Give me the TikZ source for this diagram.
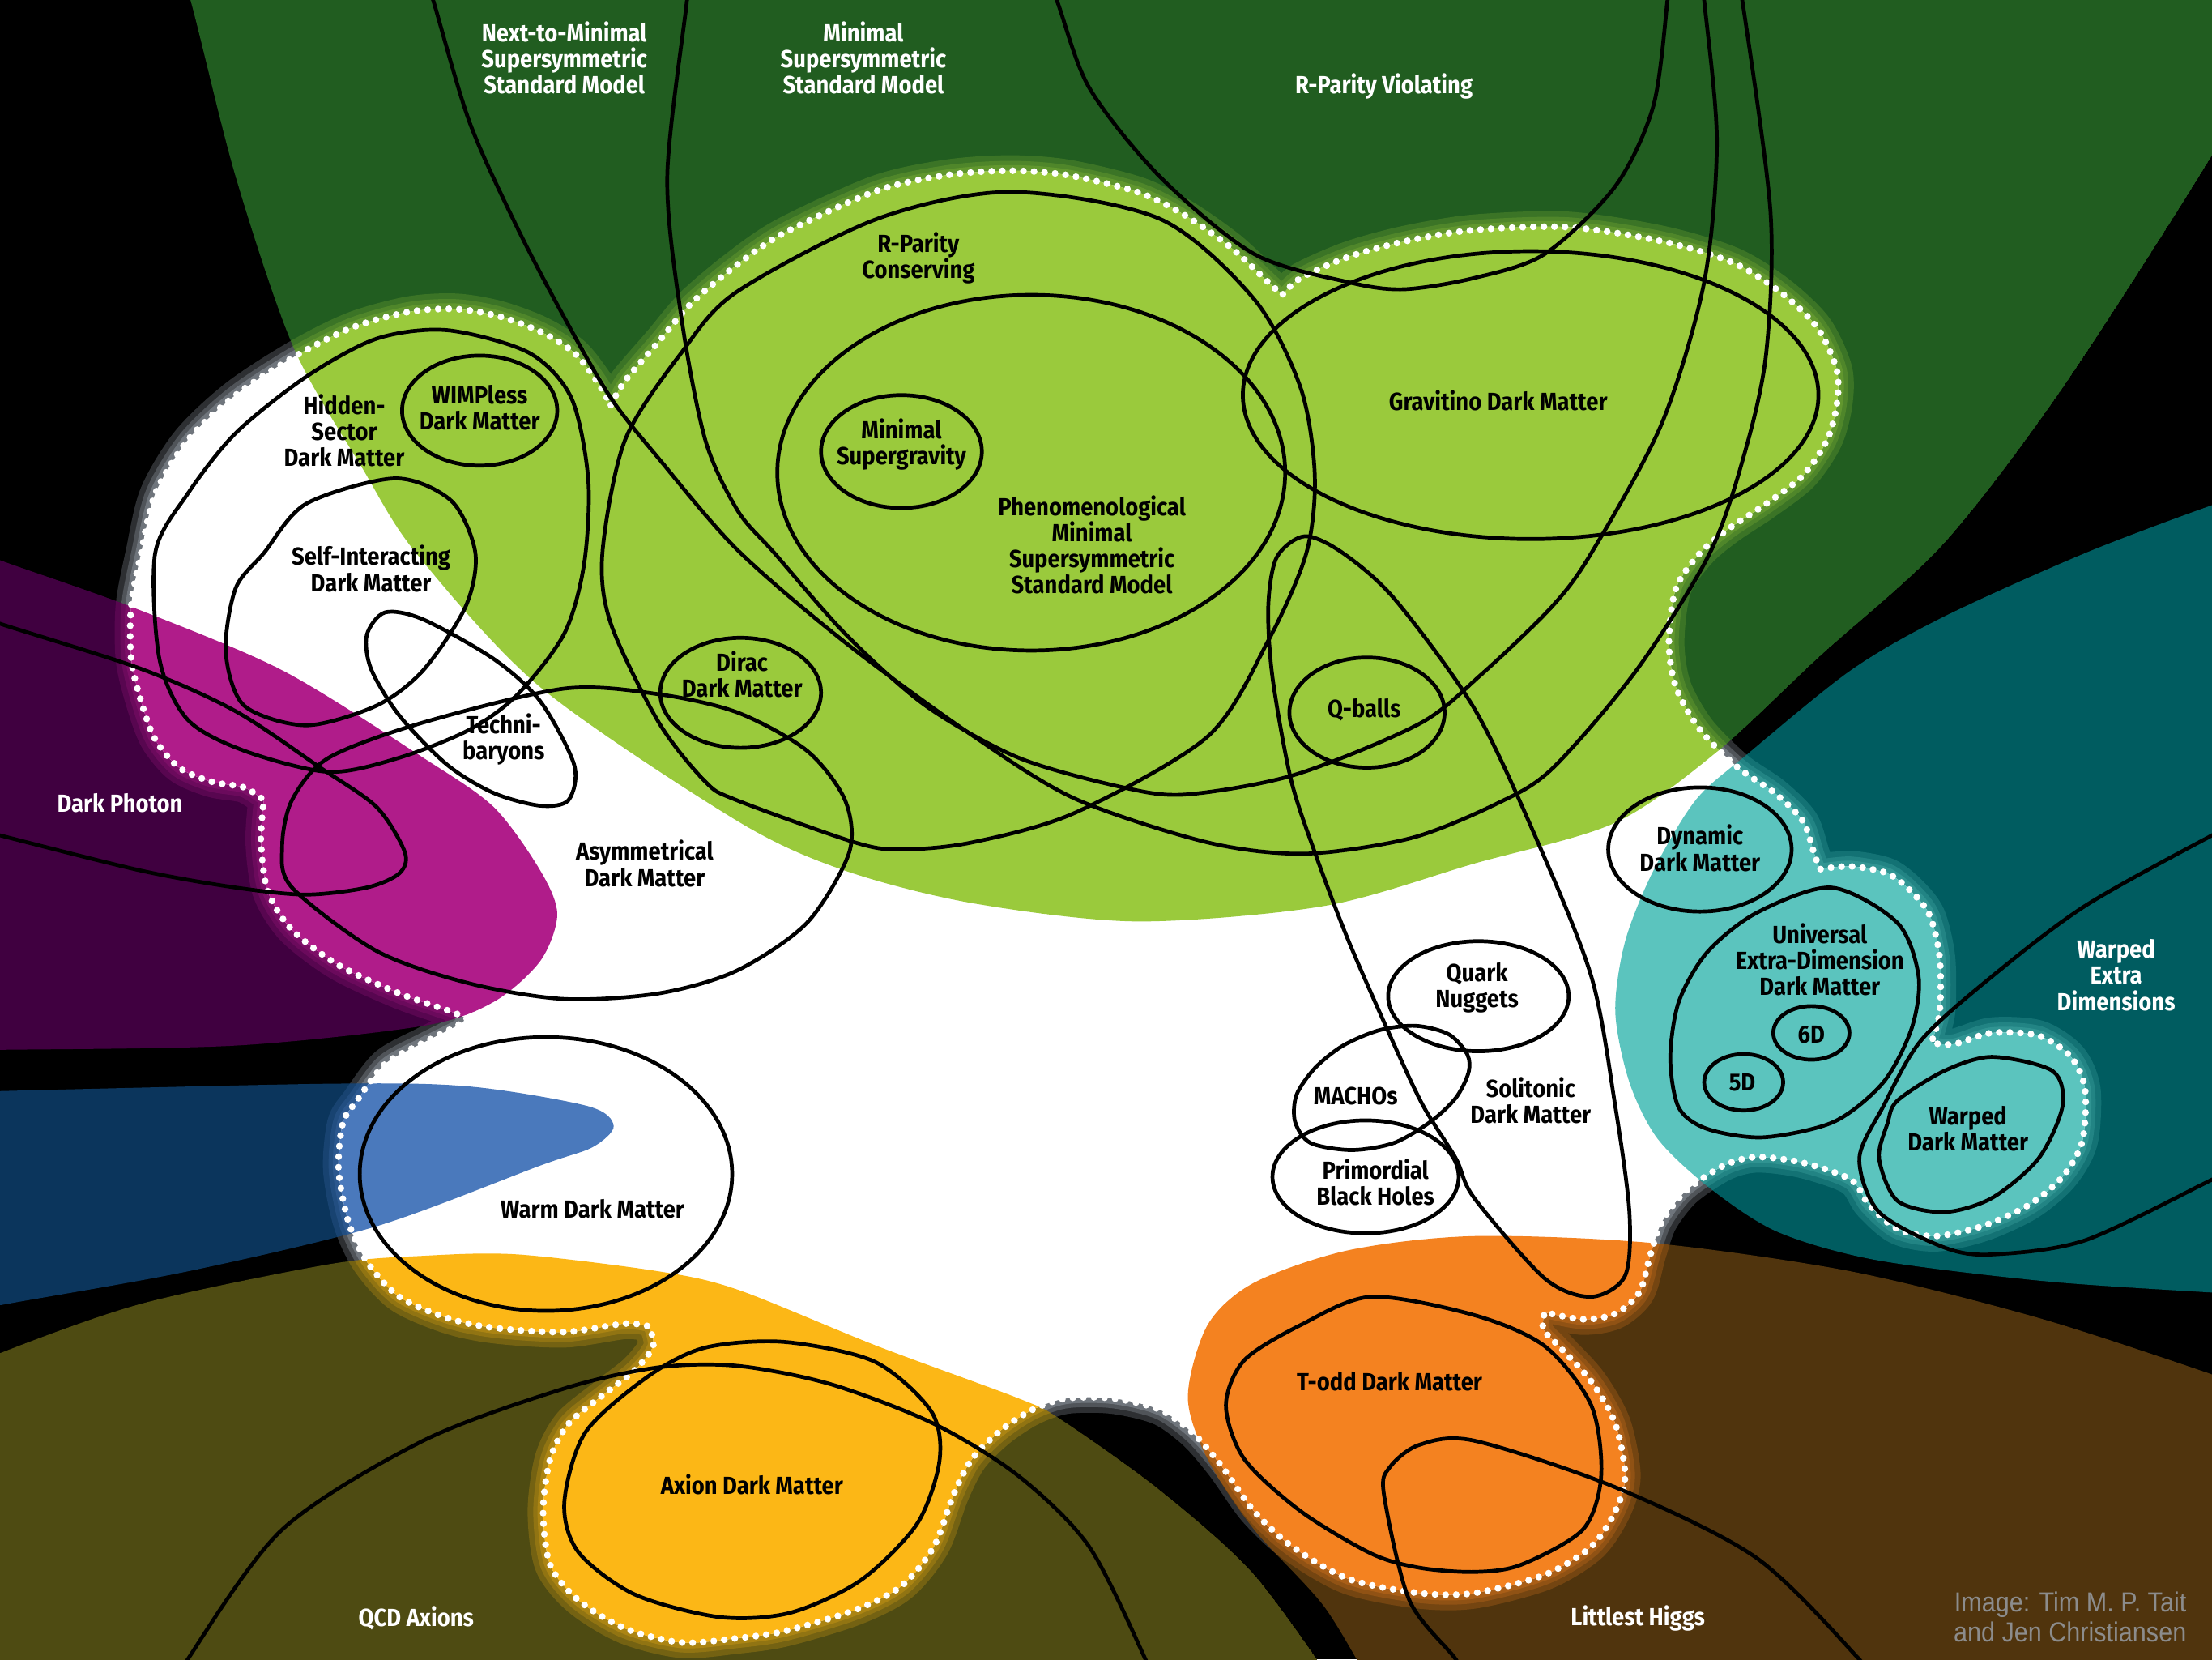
\documentclass[tikz,border=0pt]{standalone}
\usepackage{fontspec}
\newfontfamily\lab{Fira Sans}[FakeStretch=0.9]
\newfontfamily\credfont{Liberation Sans}[FakeStretch=0.9]
\definecolor{dgreen}{RGB}{33,93,32}
\definecolor{lgreen}{RGB}{154,202,60}
\definecolor{dpurple}{RGB}{64,0,64}
\definecolor{lpurple}{RGB}{176,28,138}
\definecolor{dnavy}{RGB}{11,53,92}
\definecolor{lblue}{RGB}{74,121,188}
\definecolor{dteal}{RGB}{0,92,96}
\definecolor{lteal}{RGB}{91,196,190}
\definecolor{dolive}{RGB}{78,75,18}
\definecolor{lyellow}{RGB}{252,183,22}
\definecolor{dbrown}{RGB}{80,52,13}
\definecolor{lorange}{RGB}{244,130,32}
\definecolor{creditgray}{RGB}{140,140,140}
\definecolor{glowc}{RGB}{205,218,232}
\newcommand\labfont{\lab\bfseries\fontsize{17.5}{18.5}\selectfont}
\tikzset{
  lbl/.style={font=\labfont, align=center, inner sep=0pt, text=black},
  wlbl/.style={lbl, text=white},
  ring/.style={draw=black, line width=2.7pt, line join=round},
}
\def\greenpath{plot[smooth] coordinates {(120,-40) (135,0) (167,125) (208,246) (257,332) (295,392) (383,487) (523,582) (599,617) (689,640) (806,653) (939,642) (1045,612) (1145,583) (1218,532) (1290,465) (1378,385) (1462,275) (1568,110) (1610,30)} -- (1610,-40) -- cycle}
\def\purplepath{plot[smooth] coordinates {(-30,384) (0,397) (93,430) (200,475) (300,537) (350,572) (383,617) (395,648) (383,681) (350,710) (300,727) (167,741) (0,744) (-30,744)} -- cycle}
\def\bluepath{plot[smooth] coordinates {(-30,774) (233,768) (333,770) (417,784) (435,798) (420,813) (383,826) (267,869) (133,901) (0,925) (-30,932)} -- cycle}
\def\tealpath{plot[smooth] coordinates {(1610,345) (1568,358) (1478,392) (1378,437) (1312,475) (1238,535) (1202,567) (1172,617) (1152,667) (1145,717) (1155,767) (1175,807) (1212,842) (1260,873) (1330,893) (1450,908) (1568,916) (1610,918)} -- cycle}
\def\orangepath{plot[smooth] coordinates {(975,1200) (939,1139) (889,1084) (856,1034) (842,990) (856,939) (889,909) (956,886) (1045,876) (1172,881) (1312,901) (1445,934) (1568,974) (1610,990)} -- (1610,1200) -- cycle}
\def\yellowpath{plot[smooth] coordinates {(-30,975) (0,959) (100,924) (233,896) (300,890) (367,889) (467,901) (523,914) (622,954) (722,991) (752,1006) (822,1056) (889,1116) (950,1200)} -- (-30,1200) -- cycle}
\def\blobpath{plot[smooth] coordinates {(433,287) (443,270) (467,242) (490,215) (522,188) (556,165) (622,135) (672,124) (716,121) (756,124) (806,136) (839,152) (872,175) (899,200) (909,209)}
 -- plot[smooth] coordinates {(909,209) (922,197) (956,182) (996,171) (1045,163) (1112,161) (1178,171) (1228,186) (1262,207) (1288,232) (1302,262) (1302,287) (1295,312) (1278,337) (1252,357) (1225,375) (1205,392) (1188,417) (1183,455) (1188,487) (1205,517) (1232,544) (1258,562) (1278,582) (1286,605) (1290,616)}
 -- plot[smooth] coordinates {(1290,616) (1312,614) (1338,619) (1355,632) (1368,649) (1375,679) (1375,717) (1369,739)}
 -- plot[smooth] coordinates {(1369,739) (1385,740) (1412,732) (1445,734) (1468,749) (1478,772) (1476,809) (1462,834) (1438,854) (1405,869) (1372,876) (1345,871) (1325,854) (1312,836) (1278,824) (1245,820) (1222,826) (1195,844) (1178,866) (1170,889) (1162,916) (1145,931) (1122,935) (1095,930)}
 -- plot[smooth] coordinates {(1095,930) (1094,942) (1105,954) (1128,979) (1145,1009) (1152,1046) (1145,1071) (1128,1096) (1095,1116) (1045,1129) (1006,1129) (956,1119) (916,1096) (889,1071) (866,1039) (846,1016) (822,999) (789,991) (756,991) (732,999) (709,1014) (689,1034) (676,1059) (662,1096) (639,1124) (606,1141) (556,1156) (522,1161) (483,1164) (443,1154) (410,1134) (390,1109) (385,1071) (390,1034) (403,1009) (427,989) (450,971) (463,954) (460,940)}
 -- plot[smooth] coordinates {(460,940) (443,938) (400,944) (350,941) (317,934) (283,919) (260,894) (247,866) (240,829) (243,796) (253,780) (273,754) (300,739) (322,728) (331,722)}
 -- plot[smooth] coordinates {(331,722) (320,717) (283,704) (240,684) (207,659) (190,632) (185,597) (187,567)}
 -- plot[smooth] coordinates {(187,567) (173,558) (150,554) (127,544) (110,524) (100,497) (93,467) (93,429) (100,392) (110,350) (133,312) (167,280) (210,252) (250,232) (290,221) (323,219) (353,224) (383,235) (407,250) (423,270) (433,287)} -- cycle}
\newcommand\glowstrokes[1]{%
  \draw[#1, opacity=0.22, line width=22pt, line join=round] \blobpath;
  \draw[#1, opacity=0.22, line width=14pt, line join=round] \blobpath;
  \draw[#1, opacity=0.25, line width=8pt, line join=round] \blobpath;}
\newcommand\outerregion[3]{%
  \begin{scope}\clip #1; \fill[#2] #1; \glowstrokes{#3}\end{scope}}
\begin{document}
\begin{tikzpicture}[x=1pt,y=-1pt]
\useasboundingbox (0,0) rectangle (1568,1176);
\clip (0,0) rectangle (1568,1176);
% outer world with glow tinted by each region
\fill[black] (0,0) rectangle (1568,1176);
\glowstrokes{glowc}
\outerregion{\greenpath}{dgreen}{lgreen}
\outerregion{\purplepath}{dpurple}{lpurple}
\outerregion{\bluepath}{dnavy}{lblue}
\outerregion{\tealpath}{dteal}{lteal}
\outerregion{\orangepath}{dbrown}{lorange}
\outerregion{\yellowpath}{dolive}{lyellow}
% inner world
\begin{scope}
\clip \blobpath;
\fill[white] (0,0) rectangle (1568,1176);
\fill[lgreen] \greenpath;
\fill[lpurple] \purplepath;
\fill[lblue] \bluepath;
\fill[lteal] \tealpath;
\fill[lorange] \orangepath;
\fill[lyellow] \yellowpath;
\end{scope}
\draw[white, line width=4.8pt, line cap=round, dash pattern=on 0pt off 7.5pt] \blobpath;
% outlines
\draw[ring] plot[smooth] coordinates {(300,-20) (307,0) (333,87) (367,162) (400,225) (433,282) (467,325) (523,390) (600,456) (689,521) (762,566) (856,597) (925,605) (1000,594) (1060,570) (1100,545) (1160,475) (1212,392) (1237,320) (1252,250) (1255,150) (1235,0) (1230,-20)};
\draw[ring] plot[smooth] coordinates {(488,-20) (487,0) (473,125) (483,225) (500,312) (523,362) (549,392) (600,450) (656,500) (722,537) (796,558) (841,563) (918,549) (1006,513) (1050,478) (1100,430) (1128,392) (1178,300) (1208,200) (1217,100) (1208,0) (1206,-20)};
\draw[ring] plot[smooth] coordinates {(738,-20) (749,0) (772,62) (822,125) (889,180) (956,200) (995,205) (1045,197) (1095,180) (1145,132) (1172,75) (1182,0) (1183,-20)};
\draw[ring] plot[smooth cycle] coordinates {(427,392) (433,442) (467,512) (500,554) (522,567) (606,597) (639,602) (689,597) (762,576) (856,522) (899,454) (926,392) (932,337) (922,275) (889,212) (822,155) (716,136) (622,155) (522,207) (483,250) (443,312)};
\draw[ring] (731,335) ellipse [x radius=180, y radius=126];
\draw[ring] (639,320) ellipse [x radius=57, y radius=40];
\draw[ring] (1085,280) ellipse [x radius=204, y radius=102];
\draw[ring] plot[smooth cycle] coordinates {(110,392) (113,467) (133,510) (173,532) (233,547) (283,537) (333,517) (367,492) (400,449) (414,400) (417,340) (405,282) (375,250) (317,234) (267,240) (217,267) (167,307) (133,350)};
\draw[ring] (340,291) ellipse [x radius=55, y radius=39];
\draw[ring] plot[smooth cycle] coordinates {(187,392) (167,417) (160,462) (173,500) (217,514) (267,500) (300,475) (330,430) (337,392) (320,355) (280,339) (217,357)};
\draw[ring] plot[smooth cycle] coordinates {(273,434) (300,439) (350,467) (383,497) (407,542) (403,567) (383,571) (350,562) (317,542) (283,507) (263,474) (260,450)};
\draw[ring] plot[smooth cycle] coordinates {(400,488) (467,492) (523,505) (572,532) (599,567) (602,604) (572,654) (522,688) (467,704) (400,708) (333,697) (267,674) (207,629) (200,600) (207,567) (233,537) (300,512)};
\draw[ring] (525,491) ellipse [x radius=57, y radius=39];
\draw[ring] plot[smooth] coordinates {(-10,437) (0,442) (100,474) (167,504) (227,544) (267,572) (287,604) (283,619) (260,629) (217,634) (167,629) (100,617) (0,592) (-10,589)};
\draw[ring] (387,832) ellipse [x radius=132, y radius=97];
\draw[ring] plot[smooth] coordinates {(125,1195) (133,1176) (200,1084) (300,1021) (400,984) (467,969) (523,968) (589,981) (662,1009) (722,1046) (772,1096) (812,1176) (818,1195)};
\draw[ring] plot[smooth cycle] coordinates {(556,951) (620,965) (660,1000) (666,1035) (650,1080) (610,1120) (560,1143) (510,1146) (450,1130) (410,1100) (400,1065) (415,1015) (460,975) (500,955)};
\draw[ring] plot[smooth cycle] coordinates {(972,919) (1045,932) (1095,954) (1128,996) (1135,1046) (1122,1084) (1078,1109) (1045,1114) (1006,1111) (972,1101) (922,1071) (882,1034) (869,996) (882,964) (922,939)};
\draw[ring] plot[smooth] coordinates {(1040,1195) (1032,1176) (999,1134) (981,1059) (985,1040) (1006,1024) (1045,1021) (1145,1054) (1245,1104) (1318,1176) (1330,1195)};
\draw[ring] plot[smooth] coordinates {(1585,585) (1568,592) (1478,642) (1412,692) (1362,737) (1335,784) (1318,821) (1332,859) (1378,884) (1412,889) (1478,879) (1568,836) (1585,828)};
\draw[ring] plot[smooth cycle] coordinates {(1338,796) (1345,780) (1378,759) (1412,749) (1455,759) (1462,784) (1445,821) (1412,849) (1378,859) (1345,851) (1332,821)};
\draw[ring] plot[smooth cycle] coordinates {(1298,629) (1345,654) (1360,692) (1355,729) (1335,767) (1300,795) (1250,806) (1210,800) (1190,785) (1184,750) (1190,710) (1210,675) (1245,647)};
\draw[ring] (1284,732) ellipse [x radius=27, y radius=19];
\draw[ring] (1236,767) ellipse [x radius=28, y radius=20];
\draw[ring] (1205,602) ellipse [x radius=65, y radius=44];
\draw[ring] (1048,706) ellipse [x radius=64, y radius=39];
\draw[ring] plot[smooth cycle] coordinates {(1004,727) (1027,733) (1040,747) (1041,760) (1032,778) (1014,795) (988,810) (958,815) (929,810) (918,795) (919,776) (932,757) (952,741) (978,730)};
\draw[ring] (968,834) ellipse [x radius=66, y radius=40];
\draw[ring] plot[smooth cycle] coordinates {(925,380) (952,392) (989,425) (1045,502) (1088,592) (1128,692) (1145,784) (1155,859) (1152,904) (1128,919) (1095,906) (1045,849) (1032,821) (1009,784) (989,742) (956,667) (932,604) (915,552) (902,480) (899,430) (905,395)};
\draw[ring] (969,505) ellipse [x radius=55, y radius=39];
% labels
\node[wlbl] (nmssm) at (400,41) {Next-to-Minimal\\Supersymmetric\\Standard Model};
\node[wlbl] (mssm) at (612,41) {Minimal\\Supersymmetric\\Standard Model};
\node[wlbl] (rpv) at (981,61) {R-Parity Violating};
\node[lbl] (rpc) at (651,183) {R-Parity\\Conserving};
\node[lbl] (hidden) at (244,305) {Hidden-\\Sector\\Dark Matter};
\node[lbl] (wimpless) at (340,289) {WIMPless\\Dark Matter};
\node[lbl] (msugra) at (639,315) {Minimal\\Supergravity};
\node[lbl] (gravitino) at (1062,284) {Gravitino Dark Matter};
\node[lbl] (pmssm) at (774,386) {Phenomenological\\Minimal\\Supersymmetric\\Standard Model};
\node[lbl] (sidm) at (263,403) {Self-Interacting\\Dark Matter};
\node[lbl] (techni) at (357,524) {Techni-\\baryons};
\node[lbl] (dirac) at (526,478) {Dirac\\Dark Matter};
\node[lbl] (qballs) at (967,503) {Q-balls};
\node[wlbl] (dphoton) at (85,569) {Dark Photon};
\node[lbl] (asym) at (457,612) {Asymmetrical\\Dark Matter};
\node[lbl] (dynamic) at (1205,601) {Dynamic\\Dark Matter};
\node[lbl] (ued) at (1290,680) {Universal\\Extra-Dimension\\Dark Matter};
\node[lbl] (sixd) at (1284,733) {6D};
\node[lbl] (fived) at (1235,767) {5D};
\node[wlbl] (wed) at (1500,691) {Warped\\Extra\\Dimensions};
\node[lbl] (quark) at (1047,700) {Quark\\Nuggets};
\node[lbl] (machos) at (961,777) {MACHOs};
\node[lbl] (solitonic) at (1085,780) {Solitonic\\Dark Matter};
\node[lbl] (pbh) at (975,838) {Primordial\\Black Holes};
\node[lbl] (warpeddm) at (1395,800) {Warped\\Dark Matter};
\node[lbl] (warm) at (420,857) {Warm Dark Matter};
\node[lbl] (todd) at (985,979) {T-odd Dark Matter};
\node[lbl] (axion) at (533,1052) {Axion Dark Matter};
\node[wlbl] (qcd) at (295,1147) {QCD Axions};
\node[wlbl] (higgs) at (1161,1147) {Littlest Higgs};
\node[font=\credfont\fontsize{19.5}{21}\selectfont, text=creditgray, align=right, inner sep=0pt, anchor=east] (credit) at (1550,1146) {Image: Tim M. P. Tait\\and Jen Christiansen};
\end{tikzpicture}
\end{document}
